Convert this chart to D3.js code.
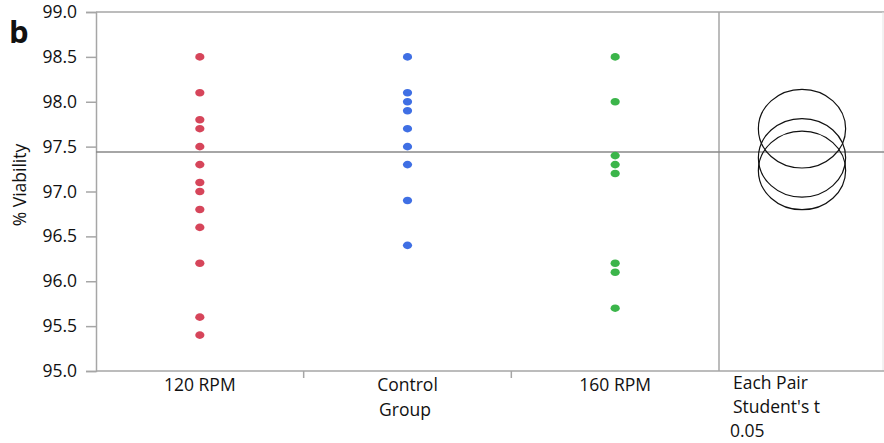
<!DOCTYPE html>
<html>
<head>
<meta charset="utf-8">
<script src="https://cdn.jsdelivr.net/npm/d3@7/dist/d3.min.js"></script>
<style>
  html, body { margin: 0; padding: 0; background: #fff; }
  svg { display: block; font-family: "Open Sans", "Noto Sans", sans-serif; }
</style>
</head>
<body>
<svg id="chart" width="884" height="443"></svg>
<script>
// Groups along the x axis
const groups = ["120 RPM", "Control", "160 RPM"];
const groupColors = ["#d6455a", "#3f6fe4", "#3bb54a"];

// % viability per group
const rpm120 = [98.5, 98.1, 97.8, 97.7, 97.5, 97.3, 97.1, 97.0, 96.8, 96.6, 96.2, 95.6, 95.4];
const control = [98.5, 98.1, 98.0, 97.9, 97.7, 97.5, 97.3, 96.9, 96.4];
const rpm160 = [98.5, 98.0, 97.4, 97.3, 97.2, 96.2, 96.1, 95.7];

// Grand mean reference line
const grandMean = 97.44;

// Comparison circles (Each Pair, Student's t, alpha 0.05): centres and radius in % units
const circleCenters = [97.70, 97.375, 97.235];
const circleRadius = 0.438;

const yTicks = [95.0, 95.5, 96.0, 96.5, 97.0, 97.5, 98.0, 98.5, 99.0];
const compareLabels = ["Each Pair", "Student's t", "0.05"];

const series = [rpm120, control, rpm160];

const svg = d3.select("#chart");
const plotLeft = 96, plotTop = 12, plotBottom = 371, divider = 719, plotRight = 883;
const axisColor = "#a6a6a6";
const fontSize = 17.5;
const fontStack = "\"Open Sans\", \"Noto Sans\", sans-serif";

const y = d3.scaleLinear().domain([95, 99]).range([plotBottom, plotTop]);
const x = d3.scaleBand().domain(groups).range([plotLeft, divider]);

// Frame: top border and right border
svg.append("line").attr("x1", plotLeft).attr("x2", plotRight + 1).attr("y1", plotTop).attr("y2", plotTop)
  .attr("stroke", axisColor).attr("stroke-width", 1.5);
svg.append("line").attr("x1", plotRight).attr("x2", plotRight).attr("y1", plotTop).attr("y2", plotBottom)
  .attr("stroke", "#e4e4e4").attr("stroke-width", 1);

// Y axis
const yAxis = svg.append("g").attr("transform", `translate(${plotLeft},0)`)
  .call(d3.axisLeft(y).tickValues(yTicks).tickFormat(d3.format(".1f")).tickSize(10).tickPadding(9));
yAxis.select(".domain").attr("stroke", axisColor).attr("stroke-width", 1.5);
yAxis.selectAll(".tick line").attr("stroke", axisColor).attr("stroke-width", 1.5);
yAxis.selectAll(".tick text").attr("font-size", fontSize).attr("fill", "#111")
  .attr("font-family", fontStack);

// X axis line with band boundary ticks
svg.append("line").attr("x1", plotLeft).attr("x2", plotRight + 1).attr("y1", plotBottom).attr("y2", plotBottom)
  .attr("stroke", axisColor).attr("stroke-width", 1.5);
groups.slice(1).forEach(g => {
  svg.append("line").attr("x1", x(g)).attr("x2", x(g)).attr("y1", plotBottom).attr("y2", plotBottom + 7)
    .attr("stroke", axisColor).attr("stroke-width", 1.5);
});
groups.forEach(g => {
  svg.append("text").attr("x", x(g) + x.bandwidth() / 2).attr("y", 391)
    .attr("text-anchor", "middle").attr("font-size", fontSize).attr("fill", "#111").text(g);
});

// Divider between the plot and the comparison circles panel
svg.append("line").attr("x1", divider).attr("x2", divider).attr("y1", plotTop).attr("y2", plotBottom)
  .attr("stroke", axisColor).attr("stroke-width", 1.5);

// Grand mean line
svg.append("line").attr("x1", plotLeft).attr("x2", plotRight + 1).attr("y1", y(grandMean)).attr("y2", y(grandMean))
  .attr("stroke", "#888").attr("stroke-width", 1.5);

// Points
series.forEach((vals, i) => {
  svg.append("g").selectAll("ellipse").data(vals).join("ellipse")
    .attr("cx", x(groups[i]) + x.bandwidth() / 2)
    .attr("cy", d => y(d))
    .attr("rx", 4.6).attr("ry", 3.8)
    .attr("fill", groupColors[i]);
});

// Comparison circles
const ry = y(95) - y(95 + circleRadius);
svg.append("g").selectAll("ellipse").data(circleCenters).join("ellipse")
  .attr("cx", 802).attr("cy", d => y(d))
  .attr("rx", ry * 1.11).attr("ry", ry)
  .attr("fill", "none").attr("stroke", "#111").attr("stroke-width", 1.2);

// Labels
svg.append("text").attr("x", 405).attr("y", 416).attr("text-anchor", "middle")
  .attr("font-size", fontSize).attr("fill", "#111").text("Group");

svg.append("text").attr("transform", "translate(26,185) rotate(-90)")
  .attr("text-anchor", "middle").attr("font-size", fontSize).attr("fill", "#111").text("% Viability");

svg.append("text").attr("x", 9).attr("y", 43).attr("font-size", 31).attr("font-weight", "bold")
  .attr("font-family", fontStack).attr("fill", "#111").text("b");

const lx = [733, 733, 730], ly = [389, 413, 437];
compareLabels.forEach((t, i) => {
  svg.append("text").attr("x", lx[i]).attr("y", ly[i]).attr("font-size", fontSize).attr("fill", "#111").text(t);
});
</script>
</body>
</html>
